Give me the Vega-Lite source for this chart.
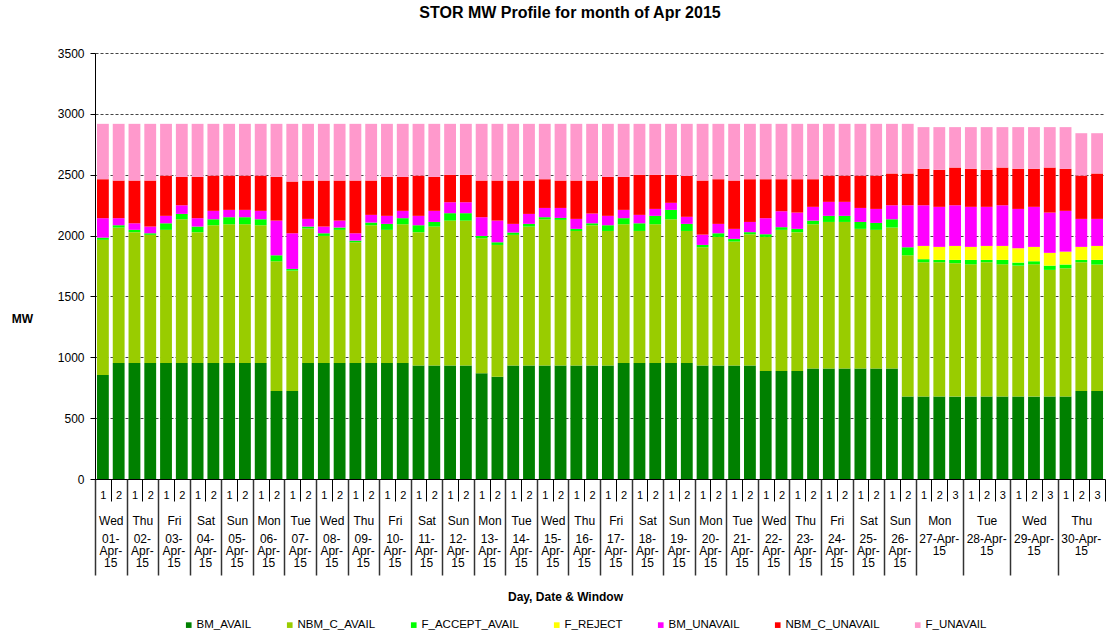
{
  "$schema": "https://vega.github.io/schema/vega-lite/v6.json",
  "width": 1010,
  "height": 426,
  "padding": {"left": 11, "top": 5, "right": 1, "bottom": 5},
  "background": "white",
  "title": {"text": "STOR MW Profile for month of Apr 2015", "font": "Liberation Sans", "fontSize": 16, "fontWeight": "bold", "color": "black", "anchor": "middle", "frame": "group", "dx": -30, "offset": 26},
  "data": {"values": [
    {"key":"01|1|Wed|01-/Apr-/15","BM_AVAIL":855,"NBM_C_AVAIL":1110,"F_ACCEPT_AVAIL":18,"F_REJECT":0,"BM_UNAVAIL":160,"NBM_C_UNAVAIL":320,"F_UNAVAIL":455},
    {"key":"01|2|Wed|01-/Apr-/15","BM_AVAIL":953,"NBM_C_AVAIL":1113,"F_ACCEPT_AVAIL":19,"F_REJECT":0,"BM_UNAVAIL":58,"NBM_C_UNAVAIL":309,"F_UNAVAIL":466},
    {"key":"02|1|Thu|02-/Apr-/15","BM_AVAIL":953,"NBM_C_AVAIL":1075,"F_ACCEPT_AVAIL":19,"F_REJECT":0,"BM_UNAVAIL":54,"NBM_C_UNAVAIL":351,"F_UNAVAIL":466},
    {"key":"02|2|Thu|02-/Apr-/15","BM_AVAIL":953,"NBM_C_AVAIL":1053,"F_ACCEPT_AVAIL":13,"F_REJECT":0,"BM_UNAVAIL":55,"NBM_C_UNAVAIL":378,"F_UNAVAIL":466},
    {"key":"03|1|Fri|03-/Apr-/15","BM_AVAIL":953,"NBM_C_AVAIL":1094,"F_ACCEPT_AVAIL":54,"F_REJECT":0,"BM_UNAVAIL":61,"NBM_C_UNAVAIL":331,"F_UNAVAIL":425},
    {"key":"03|2|Fri|03-/Apr-/15","BM_AVAIL":953,"NBM_C_AVAIL":1181,"F_ACCEPT_AVAIL":44,"F_REJECT":0,"BM_UNAVAIL":71,"NBM_C_UNAVAIL":233,"F_UNAVAIL":436},
    {"key":"04|1|Sat|04-/Apr-/15","BM_AVAIL":953,"NBM_C_AVAIL":1075,"F_ACCEPT_AVAIL":46,"F_REJECT":0,"BM_UNAVAIL":69,"NBM_C_UNAVAIL":339,"F_UNAVAIL":436},
    {"key":"04|2|Sat|04-/Apr-/15","BM_AVAIL":953,"NBM_C_AVAIL":1132,"F_ACCEPT_AVAIL":49,"F_REJECT":0,"BM_UNAVAIL":69,"NBM_C_UNAVAIL":290,"F_UNAVAIL":425},
    {"key":"05|1|Sun|05-/Apr-/15","BM_AVAIL":953,"NBM_C_AVAIL":1140,"F_ACCEPT_AVAIL":58,"F_REJECT":0,"BM_UNAVAIL":60,"NBM_C_UNAVAIL":282,"F_UNAVAIL":425},
    {"key":"05|2|Sun|05-/Apr-/15","BM_AVAIL":953,"NBM_C_AVAIL":1140,"F_ACCEPT_AVAIL":58,"F_REJECT":0,"BM_UNAVAIL":60,"NBM_C_UNAVAIL":282,"F_UNAVAIL":425},
    {"key":"06|1|Mon|06-/Apr-/15","BM_AVAIL":953,"NBM_C_AVAIL":1132,"F_ACCEPT_AVAIL":49,"F_REJECT":0,"BM_UNAVAIL":69,"NBM_C_UNAVAIL":290,"F_UNAVAIL":425},
    {"key":"06|2|Mon|06-/Apr-/15","BM_AVAIL":723,"NBM_C_AVAIL":1066,"F_ACCEPT_AVAIL":49,"F_REJECT":0,"BM_UNAVAIL":285,"NBM_C_UNAVAIL":359,"F_UNAVAIL":436},
    {"key":"07|1|Tue|07-/Apr-/15","BM_AVAIL":723,"NBM_C_AVAIL":989,"F_ACCEPT_AVAIL":14,"F_REJECT":0,"BM_UNAVAIL":293,"NBM_C_UNAVAIL":425,"F_UNAVAIL":474},
    {"key":"07|2|Tue|07-/Apr-/15","BM_AVAIL":953,"NBM_C_AVAIL":1105,"F_ACCEPT_AVAIL":16,"F_REJECT":0,"BM_UNAVAIL":63,"NBM_C_UNAVAIL":315,"F_UNAVAIL":466},
    {"key":"08|1|Wed|08-/Apr-/15","BM_AVAIL":953,"NBM_C_AVAIL":1044,"F_ACCEPT_AVAIL":22,"F_REJECT":0,"BM_UNAVAIL":55,"NBM_C_UNAVAIL":378,"F_UNAVAIL":466},
    {"key":"08|2|Wed|08-/Apr-/15","BM_AVAIL":953,"NBM_C_AVAIL":1094,"F_ACCEPT_AVAIL":19,"F_REJECT":0,"BM_UNAVAIL":57,"NBM_C_UNAVAIL":329,"F_UNAVAIL":466},
    {"key":"09|1|Thu|09-/Apr-/15","BM_AVAIL":953,"NBM_C_AVAIL":992,"F_ACCEPT_AVAIL":14,"F_REJECT":0,"BM_UNAVAIL":60,"NBM_C_UNAVAIL":433,"F_UNAVAIL":466},
    {"key":"09|2|Thu|09-/Apr-/15","BM_AVAIL":953,"NBM_C_AVAIL":1132,"F_ACCEPT_AVAIL":22,"F_REJECT":0,"BM_UNAVAIL":63,"NBM_C_UNAVAIL":282,"F_UNAVAIL":466},
    {"key":"10|1|Fri|10-/Apr-/15","BM_AVAIL":953,"NBM_C_AVAIL":1094,"F_ACCEPT_AVAIL":49,"F_REJECT":0,"BM_UNAVAIL":66,"NBM_C_UNAVAIL":320,"F_UNAVAIL":436},
    {"key":"10|2|Fri|10-/Apr-/15","BM_AVAIL":953,"NBM_C_AVAIL":1140,"F_ACCEPT_AVAIL":50,"F_REJECT":0,"BM_UNAVAIL":60,"NBM_C_UNAVAIL":279,"F_UNAVAIL":436},
    {"key":"11|1|Sat|11-/Apr-/15","BM_AVAIL":932,"NBM_C_AVAIL":1096,"F_ACCEPT_AVAIL":57,"F_REJECT":0,"BM_UNAVAIL":77,"NBM_C_UNAVAIL":331,"F_UNAVAIL":425},
    {"key":"11|2|Sat|11-/Apr-/15","BM_AVAIL":932,"NBM_C_AVAIL":1142,"F_ACCEPT_AVAIL":38,"F_REJECT":0,"BM_UNAVAIL":91,"NBM_C_UNAVAIL":279,"F_UNAVAIL":436},
    {"key":"12|1|Sun|12-/Apr-/15","BM_AVAIL":932,"NBM_C_AVAIL":1191,"F_ACCEPT_AVAIL":61,"F_REJECT":0,"BM_UNAVAIL":90,"NBM_C_UNAVAIL":225,"F_UNAVAIL":419},
    {"key":"12|2|Sun|12-/Apr-/15","BM_AVAIL":932,"NBM_C_AVAIL":1191,"F_ACCEPT_AVAIL":61,"F_REJECT":0,"BM_UNAVAIL":90,"NBM_C_UNAVAIL":225,"F_UNAVAIL":419},
    {"key":"13|1|Mon|13-/Apr-/15","BM_AVAIL":869,"NBM_C_AVAIL":1109,"F_ACCEPT_AVAIL":19,"F_REJECT":0,"BM_UNAVAIL":154,"NBM_C_UNAVAIL":301,"F_UNAVAIL":466},
    {"key":"13|2|Mon|13-/Apr-/15","BM_AVAIL":841,"NBM_C_AVAIL":1082,"F_ACCEPT_AVAIL":22,"F_REJECT":0,"BM_UNAVAIL":178,"NBM_C_UNAVAIL":329,"F_UNAVAIL":466},
    {"key":"14|1|Tue|14-/Apr-/15","BM_AVAIL":932,"NBM_C_AVAIL":1074,"F_ACCEPT_AVAIL":19,"F_REJECT":0,"BM_UNAVAIL":71,"NBM_C_UNAVAIL":356,"F_UNAVAIL":466},
    {"key":"14|2|Tue|14-/Apr-/15","BM_AVAIL":932,"NBM_C_AVAIL":1142,"F_ACCEPT_AVAIL":22,"F_REJECT":0,"BM_UNAVAIL":82,"NBM_C_UNAVAIL":274,"F_UNAVAIL":466},
    {"key":"15|1|Wed|15-/Apr-/15","BM_AVAIL":932,"NBM_C_AVAIL":1202,"F_ACCEPT_AVAIL":17,"F_REJECT":0,"BM_UNAVAIL":76,"NBM_C_UNAVAIL":236,"F_UNAVAIL":455},
    {"key":"15|2|Wed|15-/Apr-/15","BM_AVAIL":932,"NBM_C_AVAIL":1197,"F_ACCEPT_AVAIL":16,"F_REJECT":0,"BM_UNAVAIL":82,"NBM_C_UNAVAIL":225,"F_UNAVAIL":466},
    {"key":"16|1|Thu|16-/Apr-/15","BM_AVAIL":932,"NBM_C_AVAIL":1106,"F_ACCEPT_AVAIL":17,"F_REJECT":0,"BM_UNAVAIL":82,"NBM_C_UNAVAIL":315,"F_UNAVAIL":466},
    {"key":"16|2|Thu|16-/Apr-/15","BM_AVAIL":932,"NBM_C_AVAIL":1153,"F_ACCEPT_AVAIL":16,"F_REJECT":0,"BM_UNAVAIL":80,"NBM_C_UNAVAIL":271,"F_UNAVAIL":466},
    {"key":"17|1|Fri|17-/Apr-/15","BM_AVAIL":932,"NBM_C_AVAIL":1106,"F_ACCEPT_AVAIL":47,"F_REJECT":0,"BM_UNAVAIL":77,"NBM_C_UNAVAIL":320,"F_UNAVAIL":436},
    {"key":"17|2|Fri|17-/Apr-/15","BM_AVAIL":953,"NBM_C_AVAIL":1140,"F_ACCEPT_AVAIL":50,"F_REJECT":0,"BM_UNAVAIL":68,"NBM_C_UNAVAIL":271,"F_UNAVAIL":436},
    {"key":"18|1|Sat|18-/Apr-/15","BM_AVAIL":953,"NBM_C_AVAIL":1085,"F_ACCEPT_AVAIL":63,"F_REJECT":0,"BM_UNAVAIL":69,"NBM_C_UNAVAIL":329,"F_UNAVAIL":419},
    {"key":"18|2|Sat|18-/Apr-/15","BM_AVAIL":953,"NBM_C_AVAIL":1140,"F_ACCEPT_AVAIL":69,"F_REJECT":0,"BM_UNAVAIL":57,"NBM_C_UNAVAIL":280,"F_UNAVAIL":419},
    {"key":"19|1|Sun|19-/Apr-/15","BM_AVAIL":953,"NBM_C_AVAIL":1181,"F_ACCEPT_AVAIL":77,"F_REJECT":0,"BM_UNAVAIL":58,"NBM_C_UNAVAIL":230,"F_UNAVAIL":419},
    {"key":"19|2|Sun|19-/Apr-/15","BM_AVAIL":953,"NBM_C_AVAIL":1085,"F_ACCEPT_AVAIL":58,"F_REJECT":0,"BM_UNAVAIL":58,"NBM_C_UNAVAIL":336,"F_UNAVAIL":428},
    {"key":"20|1|Mon|20-/Apr-/15","BM_AVAIL":932,"NBM_C_AVAIL":972,"F_ACCEPT_AVAIL":19,"F_REJECT":0,"BM_UNAVAIL":85,"NBM_C_UNAVAIL":444,"F_UNAVAIL":466},
    {"key":"20|2|Mon|20-/Apr-/15","BM_AVAIL":932,"NBM_C_AVAIL":1057,"F_ACCEPT_AVAIL":30,"F_REJECT":0,"BM_UNAVAIL":77,"NBM_C_UNAVAIL":367,"F_UNAVAIL":455},
    {"key":"21|1|Tue|21-/Apr-/15","BM_AVAIL":932,"NBM_C_AVAIL":1019,"F_ACCEPT_AVAIL":22,"F_REJECT":0,"BM_UNAVAIL":82,"NBM_C_UNAVAIL":397,"F_UNAVAIL":466},
    {"key":"21|2|Tue|21-/Apr-/15","BM_AVAIL":932,"NBM_C_AVAIL":1079,"F_ACCEPT_AVAIL":17,"F_REJECT":0,"BM_UNAVAIL":84,"NBM_C_UNAVAIL":351,"F_UNAVAIL":455},
    {"key":"22|1|Wed|22-/Apr-/15","BM_AVAIL":888,"NBM_C_AVAIL":1101,"F_ACCEPT_AVAIL":22,"F_REJECT":0,"BM_UNAVAIL":132,"NBM_C_UNAVAIL":320,"F_UNAVAIL":455},
    {"key":"22|2|Wed|22-/Apr-/15","BM_AVAIL":888,"NBM_C_AVAIL":1159,"F_ACCEPT_AVAIL":22,"F_REJECT":0,"BM_UNAVAIL":131,"NBM_C_UNAVAIL":263,"F_UNAVAIL":455},
    {"key":"23|1|Thu|23-/Apr-/15","BM_AVAIL":888,"NBM_C_AVAIL":1140,"F_ACCEPT_AVAIL":27,"F_REJECT":0,"BM_UNAVAIL":134,"NBM_C_UNAVAIL":274,"F_UNAVAIL":455},
    {"key":"23|2|Thu|23-/Apr-/15","BM_AVAIL":907,"NBM_C_AVAIL":1186,"F_ACCEPT_AVAIL":30,"F_REJECT":0,"BM_UNAVAIL":113,"NBM_C_UNAVAIL":227,"F_UNAVAIL":455},
    {"key":"24|1|Fri|24-/Apr-/15","BM_AVAIL":907,"NBM_C_AVAIL":1205,"F_ACCEPT_AVAIL":50,"F_REJECT":0,"BM_UNAVAIL":115,"NBM_C_UNAVAIL":216,"F_UNAVAIL":425},
    {"key":"24|2|Fri|24-/Apr-/15","BM_AVAIL":907,"NBM_C_AVAIL":1205,"F_ACCEPT_AVAIL":50,"F_REJECT":0,"BM_UNAVAIL":115,"NBM_C_UNAVAIL":216,"F_UNAVAIL":425},
    {"key":"25|1|Sat|25-/Apr-/15","BM_AVAIL":907,"NBM_C_AVAIL":1148,"F_ACCEPT_AVAIL":57,"F_REJECT":0,"BM_UNAVAIL":115,"NBM_C_UNAVAIL":266,"F_UNAVAIL":425},
    {"key":"25|2|Sat|25-/Apr-/15","BM_AVAIL":907,"NBM_C_AVAIL":1140,"F_ACCEPT_AVAIL":57,"F_REJECT":0,"BM_UNAVAIL":115,"NBM_C_UNAVAIL":274,"F_UNAVAIL":425},
    {"key":"26|1|Sun|26-/Apr-/15","BM_AVAIL":907,"NBM_C_AVAIL":1159,"F_ACCEPT_AVAIL":68,"F_REJECT":0,"BM_UNAVAIL":115,"NBM_C_UNAVAIL":261,"F_UNAVAIL":408},
    {"key":"26|2|Sun|26-/Apr-/15","BM_AVAIL":677,"NBM_C_AVAIL":1161,"F_ACCEPT_AVAIL":66,"F_REJECT":0,"BM_UNAVAIL":345,"NBM_C_UNAVAIL":261,"F_UNAVAIL":408},
    {"key":"27|1|Mon|27-Apr-/15","BM_AVAIL":677,"NBM_C_AVAIL":1104,"F_ACCEPT_AVAIL":25,"F_REJECT":109,"BM_UNAVAIL":334,"NBM_C_UNAVAIL":299,"F_UNAVAIL":343},
    {"key":"27|2|Mon|27-Apr-/15","BM_AVAIL":677,"NBM_C_AVAIL":1104,"F_ACCEPT_AVAIL":19,"F_REJECT":107,"BM_UNAVAIL":329,"NBM_C_UNAVAIL":304,"F_UNAVAIL":351},
    {"key":"27|3|Mon|27-Apr-/15","BM_AVAIL":677,"NBM_C_AVAIL":1096,"F_ACCEPT_AVAIL":27,"F_REJECT":115,"BM_UNAVAIL":334,"NBM_C_UNAVAIL":310,"F_UNAVAIL":332},
    {"key":"28|1|Tue|28-Apr-/15","BM_AVAIL":677,"NBM_C_AVAIL":1087,"F_ACCEPT_AVAIL":36,"F_REJECT":107,"BM_UNAVAIL":329,"NBM_C_UNAVAIL":312,"F_UNAVAIL":343},
    {"key":"28|2|Tue|28-Apr-/15","BM_AVAIL":677,"NBM_C_AVAIL":1104,"F_ACCEPT_AVAIL":19,"F_REJECT":115,"BM_UNAVAIL":321,"NBM_C_UNAVAIL":304,"F_UNAVAIL":351},
    {"key":"28|3|Tue|28-Apr-/15","BM_AVAIL":677,"NBM_C_AVAIL":1087,"F_ACCEPT_AVAIL":36,"F_REJECT":115,"BM_UNAVAIL":334,"NBM_C_UNAVAIL":310,"F_UNAVAIL":332},
    {"key":"29|1|Wed|29-Apr-/15","BM_AVAIL":677,"NBM_C_AVAIL":1076,"F_ACCEPT_AVAIL":25,"F_REJECT":118,"BM_UNAVAIL":323,"NBM_C_UNAVAIL":329,"F_UNAVAIL":343},
    {"key":"29|2|Wed|29-Apr-/15","BM_AVAIL":677,"NBM_C_AVAIL":1087,"F_ACCEPT_AVAIL":25,"F_REJECT":118,"BM_UNAVAIL":329,"NBM_C_UNAVAIL":312,"F_UNAVAIL":343},
    {"key":"29|3|Wed|29-Apr-/15","BM_AVAIL":677,"NBM_C_AVAIL":1041,"F_ACCEPT_AVAIL":35,"F_REJECT":105,"BM_UNAVAIL":331,"NBM_C_UNAVAIL":370,"F_UNAVAIL":332},
    {"key":"30|1|Thu|30-Apr-/15","BM_AVAIL":677,"NBM_C_AVAIL":1055,"F_ACCEPT_AVAIL":30,"F_REJECT":106,"BM_UNAVAIL":335,"NBM_C_UNAVAIL":345,"F_UNAVAIL":343},
    {"key":"30|2|Thu|30-Apr-/15","BM_AVAIL":723,"NBM_C_AVAIL":1058,"F_ACCEPT_AVAIL":19,"F_REJECT":107,"BM_UNAVAIL":230,"NBM_C_UNAVAIL":356,"F_UNAVAIL":348},
    {"key":"30|3|Thu|30-Apr-/15","BM_AVAIL":723,"NBM_C_AVAIL":1039,"F_ACCEPT_AVAIL":38,"F_REJECT":115,"BM_UNAVAIL":222,"NBM_C_UNAVAIL":373,"F_UNAVAIL":331}
  ]},
  "resolve": {"axis": {"x": "independent"}},
  "layer": [
    {
      "transform": [
        {"fold": ["BM_AVAIL","NBM_C_AVAIL","F_ACCEPT_AVAIL","F_REJECT","BM_UNAVAIL","NBM_C_UNAVAIL","F_UNAVAIL"], "as": ["series","MW"]},
        {"lookup": "series", "from": {"data": {"values": [
          {"series":"BM_AVAIL","rank":1},{"series":"NBM_C_AVAIL","rank":2},{"series":"F_ACCEPT_AVAIL","rank":3},{"series":"F_REJECT","rank":4},{"series":"BM_UNAVAIL","rank":5},{"series":"NBM_C_UNAVAIL","rank":6},{"series":"F_UNAVAIL","rank":7}]}, "key": "series", "fields": ["rank"]}}
      ],
      "mark": {"type": "bar", "width": {"band": 0.75}},
      "encoding": {
        "x": {"field": "key", "type": "ordinal", "scale": {"paddingInner": 0, "paddingOuter": 0},
          "axis": {"orient": "bottom", "title": null, "grid": false, "labelAngle": 0, "labelOverlap": false, "labelExpr": "split(datum.value, '|')[1]", "labelFont": "Liberation Sans", "labelFontSize": 11, "labelColor": "black", "labelBaseline": "middle", "labelPadding": -6, "tickBand": "extent", "tickSize": 22, "tickColor": "black", "domainColor": "black"}},
        "y": {"field": "MW", "type": "quantitative", "stack": "zero", "scale": {"domain": [0, 3500], "nice": false},
          "axis": {"title": "MW", "titleAngle": 0, "titleFont": "Liberation Sans", "titleFontSize": 12, "titleFontWeight": "bold", "titleColor": "black", "titleX": -73, "titleY": 265, "titleAlign": "center", "titleBaseline": "middle", "values": [0,500,1000,1500,2000,2500,3000,3500], "format": "d", "tickSize": 5, "tickColor": "black", "labelPadding": 6, "labelFont": "Liberation Sans", "labelFontSize": 12, "labelColor": "black", "domainColor": "black", "grid": true, "gridColor": "#444", "gridDash": [3, 2], "gridWidth": 1}},
        "color": {"field": "series", "type": "nominal",
          "scale": {"domain": ["BM_AVAIL","NBM_C_AVAIL","F_ACCEPT_AVAIL","F_REJECT","BM_UNAVAIL","NBM_C_UNAVAIL","F_UNAVAIL"], "range": ["#008000","#99CC00","#00FF00","#FFFF00","#FF00FF","#FF0000","#FF99CC"]},
          "legend": {"title": null, "orient": "none", "legendX": 88, "legendY": 566, "direction": "horizontal", "columns": 7, "columnPadding": 32, "symbolType": "square", "symbolSize": 32, "symbolStrokeWidth": 0, "labelFont": "Liberation Sans", "labelFontSize": 11.5, "labelColor": "black", "labelOffset": 2}},
        "order": {"field": "rank", "type": "quantitative"}
      }
    },
    {
      "mark": {"type": "rule", "opacity": 0},
      "encoding": {
        "x": {"field": "key", "type": "ordinal",
          "axis": {"orient": "bottom", "title": null, "grid": false, "domain": false, "labelAngle": 0, "labelOverlap": false, "labelBound": false,
            "labelExpr": "isValid(datum.value) && split(datum.value, '|')[1] == (substring(datum.value, 0, 2) > '26' ? '2' : '1') ? split(datum.value, '|')[2] : ''",
            "labelOffset": {"condition": {"test": "isValid(datum.value) && substring(datum.value, 0, 2) <= '26'", "value": 7.89}, "value": 0},
            "labelFont": "Liberation Sans", "labelFontSize": 12, "labelColor": "black", "labelBaseline": "middle", "labelPadding": -55,
            "tickBand": "extent", "tickSize": 96, "tickColor": "#333", "tickWidth": 1.5,
            "tickOpacity": {"condition": {"test": "datum.index < 0 || (isValid(datum.value) && split(datum.value, '|')[1] == (substring(datum.value, 0, 2) > '26' ? '3' : '2') && substring(datum.value, 0, 4) != '30|3')", "value": 1}, "value": 0}}}
      }
    },
    {
      "mark": {"type": "rule", "opacity": 0},
      "encoding": {
        "x": {"field": "key", "type": "ordinal",
          "axis": {"orient": "bottom", "grid": false, "domain": false, "ticks": false, "tickSize": 0, "labelAngle": 0, "labelOverlap": false, "labelBound": false,
            "labelExpr": "isValid(datum.value) && split(datum.value, '|')[1] == (substring(datum.value, 0, 2) > '26' ? '2' : '1') ? split(split(datum.value, '|')[3], '/') : ''",
            "labelOffset": {"condition": {"test": "isValid(datum.value) && substring(datum.value, 0, 2) <= '26'", "value": 7.89}, "value": 0},
            "labelFont": "Liberation Sans", "labelFontSize": 12, "labelColor": "black", "labelBaseline": "top", "labelLineHeight": 12, "labelPadding": 54,
            "title": "Day, Date & Window", "titleFont": "Liberation Sans", "titleFontSize": 12, "titleFontWeight": "bold", "titleColor": "black", "titleX": 470, "titleY": 117, "titleAlign": "center", "titleBaseline": "middle"}}
      }
    }
  ],
  "config": {"view": {"stroke": null}, "font": "Liberation Sans"}
}
